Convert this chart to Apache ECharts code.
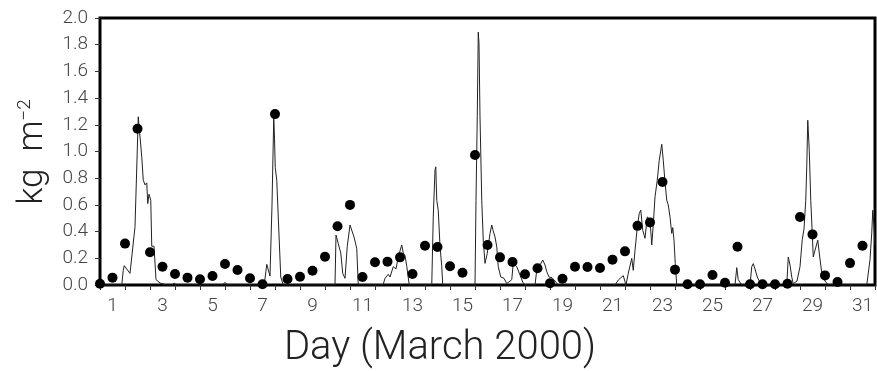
<!DOCTYPE html>
<html>
<head>
  <meta charset="utf-8">
  <script src="https://cdn.jsdelivr.net/npm/echarts@6/dist/echarts.min.js"></script>
  <style>
    html, body { margin: 0; padding: 0; background: #fff; }
  </style>
</head>
<body>
<div id="main" style="width: 877px; height: 371px"></div>
<script>
  // day labels (one per day, odd days only shown)
  const dayLabels = ['1', '', '3', '', '5', '', '7', '', '9', '', '11', '', '13', '', '15', '',
    '17', '', '19', '', '21', '', '23', '', '25', '', '27', '', '29', '', '31'];

  // 12-hourly dots [day, kg m-2]
  const dotDays = [1.0, 1.5, 2.0, 2.5, 3.0, 3.5, 4.0, 4.5, 5.0, 5.5, 6.0, 6.5, 7.0, 7.5, 8.0, 8.5,
    9.0, 9.5, 10.0, 10.5, 11.0, 11.5, 12.0, 12.5, 13.0, 13.5, 14.0, 14.5, 15.0, 15.5, 16.0, 16.5,
    17.0, 17.5, 18.0, 18.5, 19.0, 19.5, 20.0, 20.5, 21.0, 21.5, 22.0, 22.5, 23.0, 23.5, 24.0, 24.5,
    25.0, 25.5, 26.0, 26.5, 27.0, 27.5, 28.0, 28.5, 29.0, 29.5, 30.0, 30.5, 31.0, 31.5];
  const dotValues = [0.01, 0.055, 0.31, 1.17, 0.245, 0.137, 0.082, 0.055, 0.043, 0.067, 0.157, 0.112, 0.05, 0.005, 1.28, 0.045,
    0.062, 0.107, 0.212, 0.44, 0.60, 0.06, 0.17, 0.175, 0.207, 0.082, 0.294, 0.284, 0.14, 0.092, 0.974, 0.30,
    0.207, 0.172, 0.08, 0.125, 0.013, 0.047, 0.137, 0.135, 0.127, 0.19, 0.252, 0.443, 0.469, 0.772, 0.115, 0.005,
    0.005, 0.075, 0.017, 0.286, 0.005, 0.005, 0.005, 0.01, 0.51, 0.379, 0.072, 0.022, 0.164, 0.294];

  // hourly-ish trace
  const lineDays = [1.0, 1.87, 1.93, 1.97, 2.05, 2.2, 2.4, 2.53, 2.57, 2.67, 2.73, 2.8, 2.87, 2.91, 2.96, 3.03, 3.07, 3.16, 3.24, 3.4, 3.67,
    3.88, 3.97, 4.04, 5.9, 6.0, 6.1, 7.57, 7.67, 7.8, 7.88, 7.95, 7.98, 8.01, 8.07, 8.13, 8.23, 8.33,
    10.4, 10.44, 10.53, 10.63, 10.71, 10.8, 10.89, 11.0, 11.08, 11.16, 11.27, 11.33,
    12.32, 12.4, 12.53, 12.6, 12.73, 12.84, 12.93, 13.07, 13.13, 13.2, 13.27, 13.37,
    14.27, 14.33, 14.4, 14.43, 14.47, 14.53, 14.6, 14.67, 14.71,
    16.0, 16.04, 16.09, 16.13, 16.16, 16.2, 16.27, 16.33, 16.4, 16.49, 16.6, 16.67, 16.72, 16.8, 16.87, 16.93,
    17.03, 17.16, 17.27, 17.33, 17.47, 17.53, 17.67, 17.8, 17.93, 18.04,
    18.4, 18.47, 18.6, 18.71, 18.8, 18.87, 18.96, 19.08, 19.2, 19.33,
    21.6, 21.73, 21.93, 22.04, 22.13, 22.27, 22.33, 22.4, 22.49, 22.57, 22.63, 22.71, 22.8, 22.89, 23.0, 23.07,
    23.13, 23.2, 23.29, 23.37, 23.47, 23.53, 23.6, 23.67, 23.73, 23.8, 23.87, 23.91, 23.96, 24.01, 24.07,
    26.4, 26.47, 26.53, 26.6, 26.67, 27.0, 27.07, 27.13, 27.2, 27.29, 27.4, 27.53,
    28.47, 28.53, 28.6, 28.67, 28.73, 28.88, 29.0, 29.09, 29.16, 29.23, 29.27, 29.31, 29.33, 29.37, 29.43,
    29.49, 29.53, 29.6, 29.71, 29.77, 29.87, 29.96, 30.13,
    31.67, 31.8, 31.87, 31.91, 31.96, 32.0];
  const lineValues = [0, 0, 0.11, 0.145, 0.14, 0.087, 0.436, 1.26, 1.27, 0.96, 0.785, 0.75, 0.765, 0.61, 0.68, 0.635, 0.29, 0.29, 0.04, 0.015, 0,
    0, 0.015, 0, 0, 0.02, 0, 0, 0.155, 0.067, 0.6, 1.26, 1.1, 0.88, 0.785, 0.51, 0.06, 0,
    0, 0.374, 0.31, 0.24, 0.087, 0.05, 0.29, 0.449, 0.44, 0.36, 0.274, 0,
    0, 0.05, 0.08, 0.06, 0.137, 0.12, 0.21, 0.30, 0.24, 0.22, 0.14, 0,
    0, 0.51, 0.86, 0.885, 0.635, 0.56, 0.29, 0.14, 0,
    0, 0.635, 1.26, 1.894, 1.81, 1.26, 0.635, 0.336, 0.162, 0.237, 0.386, 0.449, 0.41, 0.36, 0.286, 0.137,
    0.06, 0.05, 0.01, 0, 0.04, 0.162, 0.137, 0.075, 0.012, 0,
    0, 0.112, 0.15, 0.187, 0.15, 0.10, 0.06, 0.055, 0.03, 0,
    0, 0.037, 0.07, 0, 0.087, 0.20, 0.11, 0.26, 0.43, 0.536, 0.561, 0.41, 0.35, 0.51, 0.49, 0.30,
    0.45, 0.66, 0.785, 0.935, 1.054, 0.935, 0.77, 0.635, 0.60, 0.51, 0.386, 0.43, 0.336, 0.162, 0,
    0, 0.13, 0.04, 0.045, 0, 0, 0.137, 0.16, 0.12, 0.06, 0.02, 0,
    0, 0.21, 0.15, 0.06, 0.01, 0.03, 0.137, 0.34, 0.42, 0.635, 0.885, 1.234, 1.246, 1.01, 0.635,
    0.39, 0.21, 0.26, 0.336, 0.24, 0.09, 0.04, 0,
    0, 0.19, 0.39, 0.56, 0.44, 0.30];

  const chart = echarts.init(document.getElementById('main'));
  const labelFont = 'Roboto';

  chart.setOption({
    animation: false,
    backgroundColor: '#fff',
    grid: {
      left: 100, right: 2, top: 18, bottom: 86,
      show: true, borderColor: '#000', borderWidth: 3
    },
    xAxis: [{
      type: 'value',
      min: 1, max: 32, interval: 1,
      axisLine: { lineStyle: { color: '#000', width: 2 } },
      axisTick: { length: 5, lineStyle: { color: '#333', width: 1 } },
      axisLabel: { show: false },
      splitLine: { show: false }
    }, {
      type: 'category',
      position: 'bottom',
      data: dayLabels,
      boundaryGap: true,
      axisLine: { show: false },
      axisTick: { show: false },
      axisLabel: {
        interval: 0, margin: 12,
        fontFamily: labelFont, fontWeight: 300, fontSize: 19, color: '#444'
      }
    }],
    yAxis: {
      type: 'value',
      min: 0, max: 2, interval: 0.2,
      axisLine: { show: true, lineStyle: { color: '#000', width: 2 } },
      axisTick: { show: true, length: 5, lineStyle: { color: '#333' } },
      axisLabel: {
        margin: 12,
        fontFamily: labelFont, fontWeight: 300, fontSize: 19, color: '#444',
        formatter: v => v.toFixed(1)
      },
      splitLine: { show: false }
    },
    graphic: [{
      type: 'text',
      x: 440, y: 349,
      style: {
        text: 'Day (March 2000)',
        font: '300 40px Roboto',
        fill: '#222',
        align: 'center',
        verticalAlign: 'middle'
      }
    }, {
      type: 'text',
      x: 33, y: 152,
      rotation: Math.PI / 2,
      style: {
        text: '{a|kg  m}{s|−2}',
        align: 'center',
        verticalAlign: 'middle',
        rich: {
          a: { font: '300 35px Roboto', fill: '#222', verticalAlign: 'bottom' },
          s: { font: '300 19px Roboto', fill: '#222', verticalAlign: 'top', padding: [0, 0, 16, 0] }
        }
      }
    }],
    series: [{
      type: 'line',
      xAxisIndex: 0,
      data: lineDays.map((d, i) => [d, lineValues[i]]),
      showSymbol: false,
      lineStyle: { color: '#222', width: 1 },
      z: 2
    }, {
      type: 'scatter',
      xAxisIndex: 0,
      data: dotDays.map((d, i) => [d, dotValues[i]]),
      symbolSize: 10,
      itemStyle: { color: '#000', opacity: 1 },
      z: 3
    }]
  });
</script>
</body>
</html>
